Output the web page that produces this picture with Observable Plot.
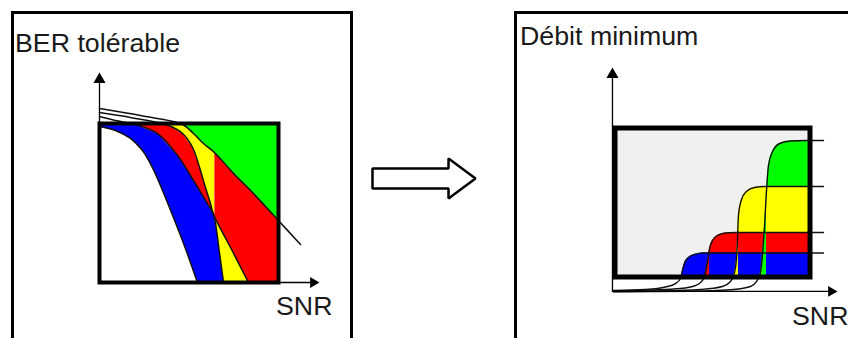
<!DOCTYPE html>
<html><head><meta charset="utf-8">
<script src="https://cdn.jsdelivr.net/npm/d3@7"></script>
<script src="https://cdn.jsdelivr.net/npm/@observablehq/plot@0.6"></script>
<style>
html,body{margin:0;padding:0;background:#fff;overflow:hidden}
#root{position:relative;width:848px;height:338px;overflow:hidden;font-family:"Liberation Sans",Arial,sans-serif}
.panel{position:absolute;border:3px solid #000;box-sizing:border-box;z-index:2;background:transparent}
.lbl{position:absolute;font-size:25px;line-height:25px;color:#1a1a1a;transform:scaleX(1.07);transform-origin:0 0;white-space:nowrap;z-index:3}
.plot{position:absolute}
</style></head><body><div id="root"></div>
<script>
// ---------- texts ----------
const leftTitle = "BER tolérable";
const rightTitle = "Débit minimum";
const xTitle = "SNR";
const palette = {blue: "#0000ff", red: "#ff0000", yellow: "#ffff00", green: "#00ff00"};

// ---------- left panel: tolerable BER curves [SNR, BER] (box = 0..1) ----------
const berA = [[0,.981],[.089,.956],[.173,.906],[.240,.830],[.296,.723],[.352,.579],[.413,.409],[.480,.214],[.547,0]];
const berB = [[0,1.044],[.089,1.019],[.201,.994],[.324,.937],[.436,.799],[.525,.642],[.592,.516],[.637,.428],[.654,.327],[.670,.189],[.693,0]];
const berC = [[0,1.069],[.173,1.038],[.385,.987],[.464,.937],[.520,.849],[.559,.723],[.592,.597],[.620,.497],[.637,.428],[.732,.220],[.832,0]];
const berD = [[0,1.094],[.229,1.050],[.464,.994],[.525,.937],[.581,.874],[.642,.818],[.749,.686],[.860,.560],[.989,.403],[1.123,.239]];
const berSwitch = 0.642;   // SNR where yellow gives way to red

// ---------- right panel: minimum rate curves [SNR, rate] (box = 0..1) ----------
const rateBlue = [[-.008,-.091],[.156,-.084],[.259,-.067],[.310,-.044],[.336,-.010],[.346,.044],[.356,.091],[.377,.131],[.408,.151],[.449,.161],[.541,.161],[1.069,.161]];
const rateRed = [[-.008,-.094],[.182,-.087],[.336,-.077],[.413,-.057],[.449,-.023],[.464,.030],[.474,.097],[.485,.191],[.500,.245],[.526,.279],[.567,.295],[.618,.299],[1.069,.299]];
const rateYellow = [[-.008,-.097],[.233,-.094],[.438,-.084],[.551,-.064],[.592,-.030],[.613,.030],[.623,.124],[.628,.245],[.633,.413],[.649,.520],[.674,.574],[.715,.601],[.772,.607],[1.069,.607]];
const rateGreen = [[-.008,-.099],[.387,-.096],[.592,-.086],[.695,-.064],[.726,-.030],[.746,.030],[.756,.144],[.767,.346],[.777,.581],[.787,.748],[.808,.842],[.844,.896],[.900,.913],[.977,.916],[1.069,.916]];
const sliverEnd = {red: .485, yellow: .633, green: .777};

// ---------- centre arrow outline ----------
const arrowShape = [[0,.5],[.738,.5],[.738,1],[1,0],[.738,-1],[.738,-.5],[0,-.5]];

const P = a => a.map(([x, y]) => ({x, y}));
const root = document.getElementById("root");
function place(el, left, top, w, h) {
  const d = document.createElement("div");
  d.className = "plot";
  d.style.left = left + "px"; d.style.top = top + "px";
  d.style.width = w + "px"; d.style.height = h + "px";
  d.appendChild(el); root.appendChild(d);
}
function label(text, left, top) {
  const s = document.createElement("div");
  s.className = "lbl"; s.textContent = text;
  s.style.left = left + "px"; s.style.top = top + "px";
  root.appendChild(s);
}
function panel(left, top, w, h) {
  const p = document.createElement("div");
  p.className = "panel";
  Object.assign(p.style, {left: left + "px", top: top + "px", width: w + "px", height: h + "px"});
  root.appendChild(p);
}

// ---------- left plot ----------
const regions = [
  {c: palette.blue, pts: [...berA, ...berB.slice().reverse()]},
  {c: palette.red, pts: [...berB.slice(0, 8), ...berC.slice(0, 9).reverse()]},
  {c: palette.yellow, pts: [...berB.slice(7), ...berC.slice(8).reverse()]},
  {c: palette.yellow, pts: [...berC.slice(0, 9), [berSwitch, berC[8][1]], ...berD.slice(0, 6).reverse()]},
  {c: palette.green, pts: [...berD, [berD.at(-1)[0], 2], [0, 2]]},
  {c: palette.red, pts: [...berD.slice(5), [berD.at(-1)[0], -1], [berC.at(-1)[0], -1], ...berC.slice(8).reverse(), [berSwitch, berC[8][1]]]}
];
const axisStyle = {x: "x", y: "y", stroke: "#000", strokeWidth: 1.3};
const left = Plot.plot({
  width: 360, height: 338,
  marginLeft: 99, marginRight: 82, marginTop: 123, marginBottom: 56,
  style: {background: "transparent", maxWidth: "none"},
  x: {domain: [0, 1], axis: null}, y: {domain: [0, 1], axis: null},
  marks: [
    regions.map(r => Plot.line(P(r.pts), {x: "x", y: "y", fill: r.c, stroke: "none", curve: "linear-closed", clip: true})),
    [berA, berB, berC, berD].map(c => Plot.line(P(c), {x: "x", y: "y", stroke: "#111", strokeWidth: 1.5, curve: "catmull-rom"})),
    Plot.frame({stroke: "#000", strokeWidth: 4}),
    Plot.line([{x: 0, y: 0}, {x: 0, y: 1.277}], axisStyle),
    Plot.dot([{x: 0, y: 1.277}], {x: "x", y: "y", symbol: "triangle", r: 4.5, fill: "#000", stroke: "none"}),
    Plot.line([{x: 0, y: 0}, {x: 1.194, y: 0}], axisStyle),
    Plot.dot([{x: 1.194, y: 0}], {x: "x", y: "y", symbol: "triangle", r: 4, rotate: 90, fill: "#000", stroke: "none"})
  ]
});
place(left, 0, 0, 360, 338);

// ---------- right plot ----------
const rows = [[rateGreen, palette.green], [rateYellow, palette.yellow], [rateRed, palette.red], [rateBlue, palette.blue]];
const slivers = [[rateRed, palette.red, sliverEnd.red], [rateYellow, palette.yellow, sliverEnd.yellow], [rateGreen, palette.green, sliverEnd.green]];
const right = Plot.plot({
  width: 348, height: 338,
  marginLeft: 114.5, marginRight: 38.5, marginTop: 127.5, marginBottom: 61.5,
  style: {background: "transparent", maxWidth: "none"},
  x: {domain: [0, 1], axis: null}, y: {domain: [0, 1], axis: null},
  marks: [
    Plot.frame({fill: "#f0f0f0", stroke: "none"}),
    rows.map(([c, col]) => Plot.areaY(P(c), {x: "x", y: "y", fill: col, curve: "monotone-x", clip: true})),
    slivers.map(([c, col, e]) => Plot.areaY(P(c.filter(([x]) => x <= e)), {x: "x", y: "y", fill: col, curve: "monotone-x", clip: true})),
    [rateBlue, rateRed, rateYellow, rateGreen].map(c => Plot.line(P(c), {x: "x", y: "y", stroke: "#111", strokeWidth: 1.4, curve: "monotone-x"})),
    Plot.frame({stroke: "#000", strokeWidth: 5}),
    Plot.line([{x: -.013, y: -.097}, {x: -.013, y: 1.359}], axisStyle),
    Plot.dot([{x: -.013, y: 1.359}], {x: "x", y: "y", symbol: "triangle", r: 4.5, fill: "#000", stroke: "none"}),
    Plot.line([{x: -.013, y: -.097}, {x: 1.109, y: -.097}], axisStyle),
    Plot.dot([{x: 1.109, y: -.097}], {x: "x", y: "y", symbol: "triangle", r: 4, rotate: 90, fill: "#000", stroke: "none"})
  ]
});
place(right, 500, 0, 348, 338);

// ---------- centre arrow ----------
const mid = Plot.plot({
  width: 130, height: 60,
  marginLeft: 12, marginRight: 15, marginTop: 8, marginBottom: 12,
  style: {background: "transparent", maxWidth: "none"},
  x: {domain: [0, 1], axis: null}, y: {domain: [-1, 1], axis: null},
  marks: [
    Plot.line(P(arrowShape), {x: "x", y: "y", curve: "linear-closed", fill: "#fff", stroke: "#000", strokeWidth: 2.5, strokeLinejoin: "miter"})
  ]
});
place(mid, 360, 150, 130, 60);

// ---------- panels and labels ----------
panel(11, 11, 342, 400);
panel(514, 11, 400, 400);
label(leftTitle, 15, 31);
label(rightTitle, 520, 24);
label(xTitle, 276, 294);
label(xTitle, 792, 304);
</script></body></html>
